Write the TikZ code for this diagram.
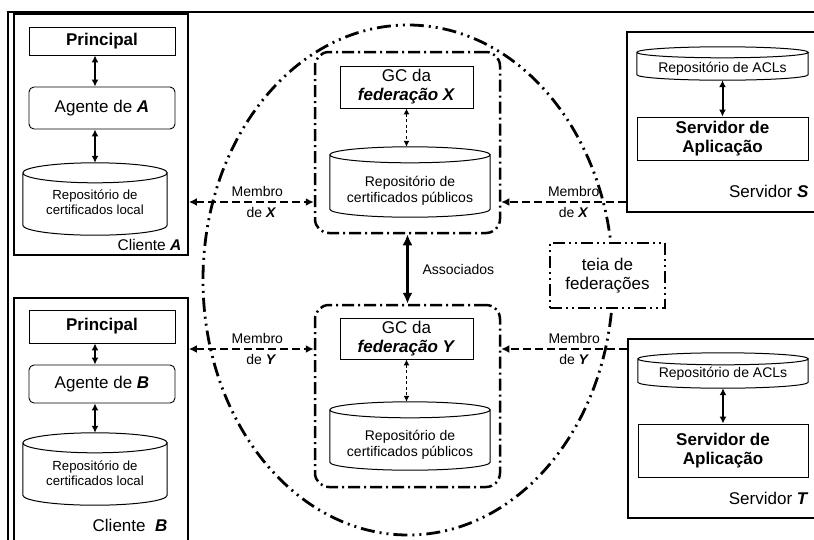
\documentclass[tikz,border=0pt]{standalone}
\usepackage{fontspec}
\setmainfont{Liberation Sans}
\usetikzlibrary{calc,arrows.meta}
% cilindro de um repositorio (no, raio vertical da elipse)
\newcommand{\drawrepo}[2]{%
  \draw[line width=1pt] let \p1=(#1.north west), \p2=(#1.south east), \n1={(\x2-\x1)/2} in
    ({\x1},{\y1-#2}) arc[start angle=180,end angle=360,x radius=\n1,y radius=#2]
    arc[start angle=0,end angle=180,x radius=\n1,y radius=#2]
    -- ({\x1},{\y2+#2}) arc[start angle=180,end angle=360,x radius=\n1,y radius=#2]
    -- ({\x2},{\y1-#2});}
\begin{document}
\begin{tikzpicture}[x=1pt,y=-1pt,
    bigfont/.style={font=\fontsize{17}{19}\selectfont},
    smallfont/.style={font=\fontsize{14}{16}\selectfont},
    box/.style={draw,line width=0.9pt,inner sep=0pt,align=center,bigfont},
    hostbox/.style={draw,line width=1.8pt,inner sep=0pt},
    fedbox/.style={draw,line width=2.5pt,rounded corners=14pt,inner sep=0pt,
        dash pattern=on 12pt off 4pt on 2pt off 4pt},
    repo/.style={inner sep=0pt},
    repotext/.style={smallfont,align=center},
    biarrow/.style={line width=2pt,{Latex[length=7pt,width=7pt]}-{Latex[length=7pt,width=7pt]}},
    gcarrow/.style={line width=1.4pt,dash pattern=on 3pt off 2.5pt,
        {Latex[length=6pt,width=6pt]}-{Latex[length=6pt,width=6pt]}},
    member/.style={line width=2.5pt,dash pattern=on 8pt off 4pt},
    mtip/.tip={Latex[length=8pt,width=8pt]},
    dashdots/.style={line width=2.8pt,dash pattern=on 14pt off 5pt on 2pt off 5pt on 2pt off 5pt}]
    \useasboundingbox (0,0) rectangle (814,539);
    \clip (0,0) rectangle (814,539);
    \draw[line width=1.6pt] (8,560) -- (8,12) -- (830,12); % moldura

    % teia de federacoes
    \draw[dashdots] (408,280) ellipse [x radius=205,y radius=255];
    \node[box,line width=2.5pt,fill=white,minimum width=115pt,minimum height=65pt,
        dash pattern=on 12pt off 4pt on 2pt off 4pt on 2pt off 4pt] (teia) at (607.5,275.5) {teia de\\federações};

    % cliente A
    \node[hostbox,minimum width=174pt,minimum height=241pt] (cliA) at (101,134.5) {};
    \node[box,minimum width=146pt,minimum height=28pt] (prinA) at (102,41) {\textbf{Principal}};
    \node[box,rounded corners=5pt,minimum width=146pt,minimum height=42pt] (agA) at (102,108) {Agente de \textbf{\emph{A}}};
    \node[repo,minimum width=144pt,minimum height=72pt,
        label={[repotext,font=\fontsize{13.2}{15}\selectfont,yshift=-3pt]center:{Repositório de\\certificados local}}] (repoA) at (95,199) {};
    \drawrepo{repoA}{10pt}
    \node[anchor=south east,font=\fontsize{15.5}{17}\selectfont] (lblA) at ([shift={(-4,-2)}]cliA.south east) {Cliente \textbf{\emph{A}}};
    \draw[biarrow] (prinA.south -| repoA.north) -- (agA.north -| repoA.north);
    \draw[biarrow] (agA.south -| repoA.north) -- (repoA.north);

    % cliente B
    \node[hostbox,minimum width=174pt,minimum height=247pt] (cliB) at (101,421.5) {};
    \node[box,minimum width=146pt,minimum height=33pt] (prinB) at (102,326.5) {\textbf{Principal}};
    \node[box,rounded corners=5pt,minimum width=146pt,minimum height=38pt] (agB) at (102,384) {Agente de \textbf{\emph{B}}};
    \node[repo,minimum width=144pt,minimum height=72pt,
        label={[repotext,font=\fontsize{13.2}{15}\selectfont,yshift=-4pt]center:{Repositório de\\certificados local}}] (repoB) at (95,469) {};
    \drawrepo{repoB}{10pt}
    \node[bigfont] (lblB) at (130,525) {Cliente\ \ \textbf{\emph{B}}};
    \draw[biarrow] (prinB.south -| repoB.north) -- (agB.north -| repoB.north);
    \draw[biarrow] (agB.south -| repoB.north) -- (repoB.north);

    % federacao X
    \node[fedbox,minimum width=185pt,minimum height=181pt] (fedX) at (407.5,142.5) {};
    \node[box,minimum width=133pt,minimum height=42pt] (gcX) at (406.5,87) {GC da\\\textbf{\emph{federação X}}};
    \node[repo,minimum width=160pt,minimum height=70pt,
        label={[repotext,yshift=-9pt]center:{Repositório de\\certificados públicos}}] (repoX) at (410,182) {};
    \drawrepo{repoX}{8pt}
    \draw[gcarrow] (gcX.south) -- (gcX.south |- repoX.north);

    % federacao Y
    \node[fedbox,minimum width=185pt,minimum height=182pt] (fedY) at (407.5,396) {};
    \node[box,minimum width=133pt,minimum height=41pt] (gcY) at (406.5,338.5) {GC da\\\textbf{\emph{federação Y}}};
    \node[repo,minimum width=160pt,minimum height=68pt,
        label={[repotext,yshift=-9pt]center:{Repositório de\\certificados públicos}}] (repoY) at (410,436) {};
    \drawrepo{repoY}{8pt}
    \draw[gcarrow] (gcY.south) -- (gcY.south |- repoY.north);

    \draw[line width=3.5pt,{Latex[length=11pt,width=10pt]}-{Latex[length=11pt,width=10pt]}] (fedX.south) -- (fedY.north)
        node[midway,right=10pt,smallfont] {Associados};

    % servidor S
    \node[hostbox,minimum width=203pt,minimum height=180pt] (srvS) at (728.5,122) {};
    \node[repo,minimum width=171pt,minimum height=33pt,
        label={[repotext,yshift=-5pt]center:Repositório de ACLs}] (aclS) at (722.5,63.5) {};
    \drawrepo{aclS}{5.5pt}
    \node[box,minimum width=171pt,minimum height=43pt] (appS) at (722.5,138.5) {\textbf{Servidor de}\\\textbf{Aplicação}};
    \node[anchor=east,bigfont] (lblS) at (812,191) {Servidor \textbf{\emph{S}}};
    \draw[biarrow] (aclS.south) -- (aclS.south |- appS.north);

    % servidor T
    \node[hostbox,minimum width=202pt,minimum height=179pt] (srvT) at (729,428.5) {};
    \node[repo,minimum width=170pt,minimum height=35pt,
        label={[repotext,yshift=-3pt]center:Repositório de ACLs}] (aclT) at (723,370.5) {};
    \drawrepo{aclT}{6pt}
    \node[box,minimum width=170pt,minimum height=53pt] (appT) at (723,450.5) {\textbf{Servidor de}\\\textbf{Aplicação}};
    \node[anchor=east,bigfont] (lblT) at (812,498) {Servidor \textbf{\emph{T}}};
    \draw[biarrow] (aclT.south) -- (aclT.south |- appT.north);

    % membros
    \coordinate (rowX) at (408,202);
    \coordinate (rowY) at (408,349);
    \draw[member,mtip-mtip] (cliA.east |- rowX) -- (fedX.west |- rowX)
        node[midway,above=1pt,xshift=6pt,smallfont] {Membro}
        node[midway,below=1pt,xshift=10pt,smallfont] {de \textbf{\emph{X}}};
    \draw[member,-mtip] (srvS.west |- rowX) -- (fedX.east |- rowX)
        node[midway,above=1pt,xshift=10pt,smallfont] {Membro}
        node[midway,below=1pt,xshift=10pt,smallfont] {de \textbf{\emph{X}}};
    \draw[member,mtip-mtip] (cliB.east |- rowY) -- (fedY.west |- rowY)
        node[midway,above=1pt,xshift=6pt,smallfont] {Membro}
        node[midway,below=1pt,xshift=10pt,smallfont] {de \textbf{\emph{Y}}};
    \draw[member,-mtip] (srvT.west |- rowY) -- (fedY.east |- rowY)
        node[midway,above=1pt,xshift=10pt,smallfont] {Membro}
        node[midway,below=1pt,xshift=10pt,smallfont] {de \textbf{\emph{Y}}};
\end{tikzpicture}
\end{document}
